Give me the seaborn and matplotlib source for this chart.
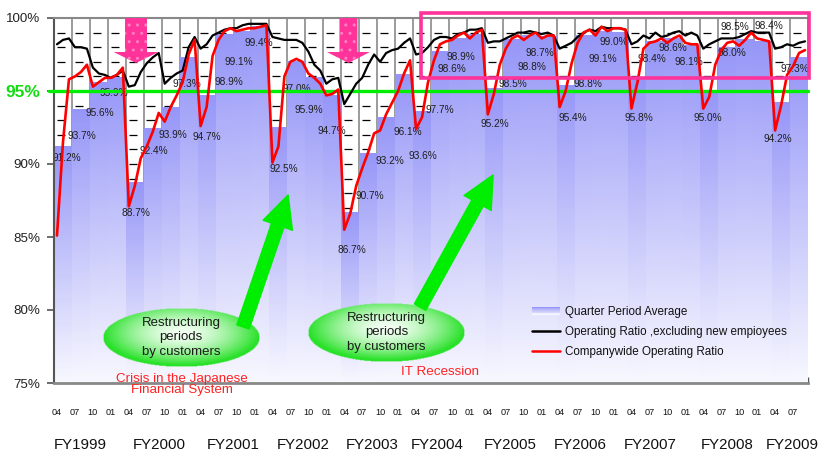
import numpy as np
import pandas as pd
import matplotlib
matplotlib.use("Agg")
import matplotlib.pyplot as plt
import matplotlib.transforms as mtransforms
from matplotlib.patches import Polygon, Rectangle, FancyArrowPatch, Patch, ArrowStyle
from matplotlib.lines import Line2D
from matplotlib.legend_handler import HandlerBase
import seaborn as sns

# ---------------------------------------------------------------- data
fiscal_years = ["FY1999", "FY2000", "FY2001", "FY2002", "FY2003", "FY2004",
                "FY2005", "FY2006", "FY2007", "FY2008", "FY2009"]
quarter_months = ["04", "07", "10", "01"]

# quarter period average (%), FY1999 Q1 .. FY2009 Q2
quarter_avg = [91.2, 93.7, 95.6, 95.9, 88.7, 92.4, 93.9, 97.3, 94.7, 98.9,
               99.1, 99.4, 92.5, 97.0, 95.9, 94.7, 86.7, 90.7, 93.2, 96.1,
               93.6, 97.7, 98.6, 98.9, 95.2, 98.5, 98.8, 98.7, 95.4, 98.8,
               99.1, 99.0, 95.8, 98.4, 98.6, 98.1, 95.0, 98.0, 98.5, 98.4,
               94.2, 97.3]

# monthly companywide operating ratio (%)
companywide = [85.1, 91.5, 95.8, 96.0, 96.3, 96.8, 95.3, 95.6, 95.9, 95.9, 96.1, 96.6,
               87.1, 88.5, 90.4, 91.2, 92.2, 93.5, 92.9, 93.9, 94.7, 95.6, 97.5, 98.5,
               92.6, 93.9, 97.4, 98.5, 99.1, 99.3, 99.1, 99.2, 99.3, 99.3, 99.4, 99.5,
               90.1, 91.2, 96.0, 97.0, 97.2, 97.0, 96.2, 95.9, 95.5, 94.7, 94.8, 95.1,
               85.5, 86.6, 88.5, 89.7, 90.8, 92.1, 92.3, 93.4, 94.2, 95.0, 96.2, 97.1,
               92.4, 93.2, 95.6, 97.1, 98.2, 98.4, 98.5, 98.8, 99.0, 98.6, 99.0, 99.2,
               93.4, 94.8, 96.8, 97.9, 98.6, 98.8, 98.5, 98.8, 99.0, 98.6, 98.8, 98.8,
               93.9, 95.0, 96.9, 98.3, 99.0, 99.2, 98.8, 99.4, 99.1, 99.3, 99.3, 99.2,
               93.8, 95.6, 97.9, 98.3, 98.4, 98.6, 98.3, 98.6, 98.8, 98.3, 98.2, 98.2,
               93.8, 94.6, 96.8, 97.8, 98.3, 98.4, 98.1, 98.5, 99.0, 98.6, 98.5, 98.4,
               92.3, 94.0, 96.1, 96.7, 97.6, 97.8]

# monthly operating ratio excluding new employees (%)
excl_new = [98.2, 98.5, 98.6, 98.0, 98.0, 97.9, 96.6, 96.2, 96.1, 95.9, 96.1, 96.4,
            95.3, 95.4, 96.3, 96.9, 97.3, 97.6, 95.5, 95.9, 96.2, 96.4, 98.0, 98.7,
            97.9, 98.2, 98.8, 99.0, 99.2, 99.3, 99.3, 99.5, 99.6, 99.6, 99.6, 99.6,
            98.7, 98.6, 98.5, 98.5, 98.5, 98.3, 97.7, 96.8, 96.4, 95.5, 95.8, 95.9,
            94.1, 94.8, 95.5, 95.9, 96.8, 97.5, 97.0, 97.6, 97.8, 97.9, 98.3, 98.6,
            97.5, 97.6, 98.0, 98.5, 98.7, 98.7, 98.6, 98.9, 99.0, 99.2, 99.2, 99.3,
            98.3, 98.4, 98.4, 98.6, 98.8, 99.0, 99.0, 99.1, 99.0, 98.9, 99.0, 98.8,
            97.9, 98.1, 98.3, 98.7, 99.0, 99.2, 99.1, 99.4, 99.3, 99.3, 99.3, 99.2,
            98.2, 98.4, 98.8, 98.6, 99.0, 98.7, 98.8, 99.0, 99.1, 98.8, 99.0, 98.8,
            97.9, 98.2, 98.4, 98.6, 98.6, 98.6, 98.7, 98.9, 99.1, 99.0, 99.0, 99.0,
            97.9, 98.0, 98.2, 98.1, 98.3, 98.4]

# value-label placement relative to each bar top, in pixels (right, down)
label_dx = [4, 1, 1, -3, 1, 1, 2, -2, 0, 4, -4, -2, 5, 0, -5, 0, 2, 2, 4, 4, 1,
            0, -6, -15, 1, 1, 2, -8, 7, 4, 1, -6, 1, -4, 0, -2, -1, 5, -10, 6, -3, -4]
label_dy = [12, 26, 31, 15, 30, 22, 28, 27, 42, 48, 31, 16, 41, 27, 32, 36, 38, 42,
            44, 57, 45, 58, 31, 23, 36, 44, 31, 16, 33, 48, 28, 9, 39, 18, 10, 16,
            27, 6, -13, -15, 36, 12]

# fiscal-year caption positions along the quarter axis
fy_label_pos = [0.95, 5.35, 9.47, 13.37, 17.22, 20.84, 24.9, 28.8, 32.7, 37.0, 40.65]

n_q = len(quarter_avg)
quarter_idx = list(range(n_q))
quarter_lbl = [quarter_months[i % 4] for i in quarter_idx]
month_x = [i + (j - 1) / 3 for i in quarter_idx for j in range(3)]

# ---------------------------------------------------------------- style
sns.set_theme(style="white")
plt.rcParams["font.family"] = ["Liberation Sans", "DejaVu Sans"]

BAR_TOP = np.array([150, 150, 248]) / 255
BAR_BOTTOM = np.array([248, 248, 255]) / 255
PINK = "#ff3399"
GREEN = "#00ee00"

fig = plt.figure(figsize=(8.22, 4.54), dpi=100)
fig.patch.set_facecolor("white")
ax = fig.add_axes([54 / 822, 1 - 383 / 454, 754 / 822, 365 / 454])
ax.set_facecolor("white")

# ---------------------------------------------------------------- bars
bars_df = pd.DataFrame({"quarter": quarter_idx, "average": quarter_avg})
sns.barplot(data=bars_df, x="quarter", y="average", order=quarter_idx, width=1.0,
            color="#9999f8", saturation=1, ax=ax, zorder=1)

# vertical fade inside every bar, from the bar top down to the axis floor
g = np.linspace(0, 1, 256)[:, None, None]
fade = BAR_TOP * (1 - g) + BAR_BOTTOM * g
for p in list(ax.patches):
    x0, w = p.get_x(), p.get_width()
    top = p.get_y() + p.get_height()
    p.set_facecolor("none")
    p.set_edgecolor("none")
    ax.imshow(fade, extent=(x0, x0 + w, 75, top), origin="upper", aspect="auto",
              interpolation="bilinear", zorder=1)

# ---------------------------------------------------------------- grid
bounds = np.arange(-0.5, n_q + 0.5, 1.0)
ax.vlines(bounds[1:], 75, 100, colors="#808080", lw=1.1, zorder=0.5)
levels = np.arange(76, 100)
lv, lb = np.meshgrid(levels, bounds[:-1])
ax.hlines(lv.ravel(), lb.ravel() + 0.15, lb.ravel() + 0.6, colors="black", lw=0.9, zorder=0.5)

# ---------------------------------------------------------------- lines
sns.lineplot(x=month_x, y=excl_new, color="black", lw=1.6, ax=ax, zorder=4,
             sort=False, estimator=None)
sns.lineplot(x=month_x, y=companywide, color="red", lw=1.9, ax=ax, zorder=5,
             sort=False, estimator=None)

# 95% reference line
ax.plot([-0.8, n_q - 0.5], [95, 95], color=GREEN, lw=2.4, zorder=3, clip_on=False)

# ---------------------------------------------------------------- value labels
for i, v in enumerate(quarter_avg):
    ax.annotate(f"{v:.1f}%", xy=(i, v), xytext=(label_dx[i], -label_dy[i]),
                textcoords="offset pixels", ha="center", va="center",
                fontsize=7.3, color="#1e1e1e", zorder=2.5)

# ---------------------------------------------------------------- axes
ax.set_xlim(-0.5, n_q - 0.5)
ax.set_ylim(75, 100)
ax.set_xlabel("")
ax.set_ylabel("")

ax.set_xticks(np.array(quarter_idx) - 0.33)
ax.set_xticklabels(quarter_lbl)
ax.set_xticks(bounds, minor=True)
ax.tick_params(axis="x", which="major", length=0, pad=18, labelsize=6.6,
               labelcolor="#111", bottom=True)
ax.tick_params(axis="x", which="minor", direction="in", length=4, width=1,
               color="#555", bottom=True)

ax.set_yticks([75, 80, 85, 90, 95, 100])
ax.set_yticklabels([f"{t}%" for t in [75, 80, 85, 90, 95, 100]])
ax.tick_params(axis="y", which="major", direction="out", length=5, width=1.2,
               color="#555", left=True, pad=5, labelsize=9.6, labelcolor="#222")
lab95 = ax.get_yticklabels()[4]
lab95.set_color("#11dd11")
lab95.set_fontsize(12.5)
lab95.set_fontweight("bold")

for side, col, lw in [("bottom", "#888888", 2.0), ("left", "#555555", 1.5),
                      ("top", "#888888", 1.5)]:
    ax.spines[side].set_visible(True)
    ax.spines[side].set_color(col)
    ax.spines[side].set_linewidth(lw)
ax.spines["right"].set_visible(False)

xform = mtransforms.blended_transform_factory(ax.transData, ax.transAxes)
for pos, fy in zip(fy_label_pos, fiscal_years):
    ax.text(pos, -0.170, fy, transform=xform, ha="center", va="center",
            fontsize=10.8, color="#111")

# ---------------------------------------------------------------- annotations
def down_arrow(xc, half_shaft, half_head, y_base, y_tip):
    pts = [(xc - half_shaft, 100), (xc + half_shaft, 100), (xc + half_shaft, y_base),
           (xc + half_head, y_base), (xc, y_tip), (xc - half_head, y_base),
           (xc - half_shaft, y_base)]
    ax.add_patch(Polygon(pts, closed=True, facecolor=PINK, edgecolor="#ff80c0",
                         lw=0, hatch="..", zorder=6))

down_arrow(4.07, 0.61, 1.25, 97.67, 96.92)
down_arrow(15.9, 0.50, 1.20, 97.67, 96.92)

ax.add_patch(Rectangle((19.97, 95.87), 41.56 - 19.97, 100.32 - 95.87, fill=False,
                       edgecolor=PINK, lw=2.6, zorder=7, clip_on=False))

style = ArrowStyle.Simple(head_length=32, head_width=31, tail_width=13)
for tail, tip in [((10.03, 78.84), (12.54, 87.88)), ((19.89, 80.2), (23.96, 89.25))]:
    ax.add_patch(FancyArrowPatch(tail, tip, arrowstyle=style, mutation_scale=0.72,
                                 color=GREEN, shrinkA=0, shrinkB=0, zorder=6.5))

# green glossy ellipses
def glossy_ellipse(cx, cy, w, h, text):
    nx, ny = 240, 100
    xs = np.linspace(-1, 1, nx)
    ys = np.linspace(1, -1, ny)
    X, Y = np.meshgrid(xs, ys)
    r = np.sqrt(X ** 2 + ((Y - 0.15) / 1.1) ** 2)
    t = np.clip(r, 0, 1) ** 1.6
    inner = np.array([245, 255, 245]) / 255
    outer = np.array([40, 225, 40]) / 255
    rgba = np.zeros((ny, nx, 4))
    rgba[..., :3] = inner * (1 - t[..., None]) + outer * t[..., None]
    rgba[..., 3] = (X ** 2 + Y ** 2 <= 1).astype(float)
    ax.imshow(rgba, extent=(cx - w / 2, cx + w / 2, cy - h / 2, cy + h / 2),
              origin="upper", aspect="auto", interpolation="bilinear", zorder=6.2)
    ax.text(cx, cy, text, ha="center", va="center", fontsize=9.5, color="#1a1a1a",
            linespacing=1.32, zorder=7)

glossy_ellipse(6.58, 78.12, 8.69, 4.04, "Restructuring\nperiods\nby customers")
glossy_ellipse(18.02, 78.46, 8.69, 4.04, "Restructuring\nperiods\nby customers")

ax.text(6.6, 74.9, "Crisis in the Japanese\nFinancial System", ha="center", va="center",
        fontsize=9.6, color="#ff2222", linespacing=0.95, zorder=8)
ax.text(21.0, 75.75, "IT Recession", ha="center", va="center", fontsize=9.6,
        color="#ff2222", zorder=8)

ax.set_xlim(-0.5, n_q - 0.5)
ax.set_ylim(75, 100)

# ---------------------------------------------------------------- legend
class GradientBarHandler(HandlerBase):
    def create_artists(self, legend, orig_handle, xdescent, ydescent, width, height,
                       fontsize, trans):
        arts = []
        n = 10
        for k in range(n):
            t = k / (n - 1)
            c = BAR_TOP * (1 - t) + BAR_BOTTOM * t
            arts.append(Rectangle((-xdescent, -ydescent + height * (1 - (k + 1) / n)),
                                  width, height / n, facecolor=c, edgecolor="none",
                                  transform=trans))
        return arts

bar_handle = Patch(label="Quarter Period Average")
handles = [bar_handle,
           Line2D([], [], color="black", lw=1.8, label="Operating Ratio ,excluding new empioyees"),
           Line2D([], [], color="red", lw=1.8, label="Companywide Operating Ratio")]
leg = ax.legend(handles=handles, handler_map={bar_handle: GradientBarHandler()},
                loc="upper left", bbox_to_anchor=(532 / 822, 1 - 306 / 454),
                bbox_transform=fig.transFigure, frameon=False, fontsize=8.4,
                handlelength=2.4, handletextpad=0.4, labelspacing=0.68,
                borderpad=0, borderaxespad=0)
leg.set_zorder(9)
for txt in leg.get_texts():
    txt.set_color("#111")

fig.savefig("out.png", dpi=100)
